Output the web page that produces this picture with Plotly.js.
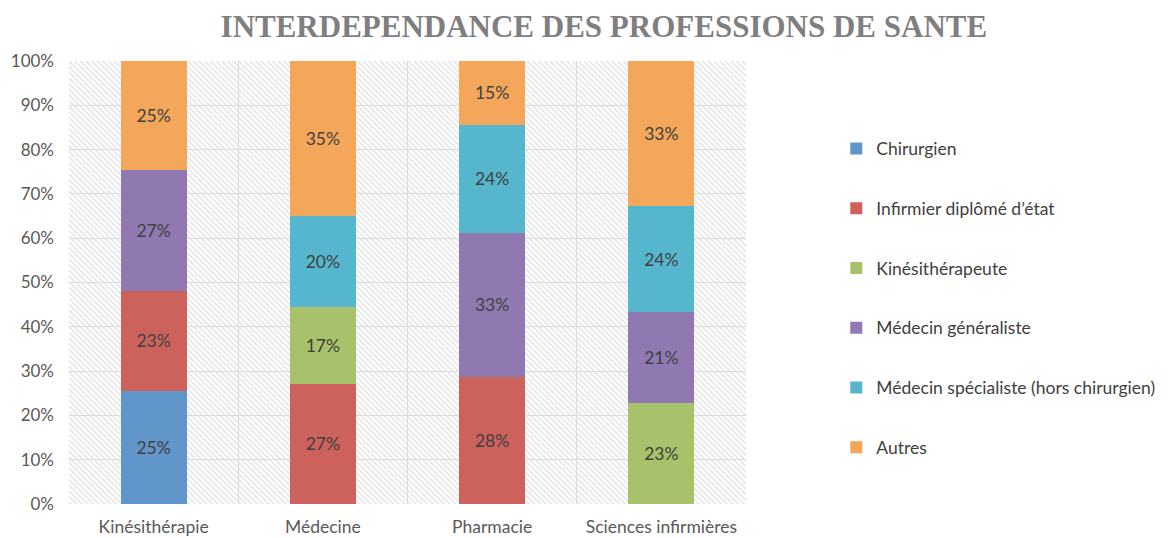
<!DOCTYPE html>
<html><head><meta charset="utf-8">
<script src="https://cdn.plot.ly/plotly-3.0.1.min.js"></script>
<style>html,body{margin:0;padding:0;background:#fff;}#chart{width:1168px;height:538px;}</style>
</head><body><div id="chart"></div>
<script>
const categories = ["Kinésithérapie", "Médecine", "Pharmacie", "Sciences infirmières"];
const seriesNames = ["Chirurgien", "Infirmier diplômé d’état", "Kinésithérapeute", "Médecin généraliste", "Médecin spécialiste (hors chirurgien)", "Autres"];
const chirurgien   = [25.5, 0, 0, 0];
const infirmier    = [22.6, 27.1, 28.7, 0];
const kine         = [0, 17.4, 0, 22.8];
const generaliste  = [27.3, 0, 32.5, 20.5];
const specialiste  = [0, 20.5, 24.4, 24.0];
const autres       = [24.6, 35.0, 14.4, 32.7];
const chirurgienLabels  = ["25%", "", "", ""];
const infirmierLabels   = ["23%", "27%", "28%", ""];
const kineLabels        = ["", "17%", "", "23%"];
const generalisteLabels = ["27%", "", "33%", "21%"];
const specialisteLabels = ["", "20%", "24%", "24%"];
const autresLabels      = ["25%", "35%", "15%", "33%"];
const yTickVals = [0,10,20,30,40,50,60,70,80,90,100];
const yTickText = ["0%","10%","20%","30%","40%","50%","60%","70%","80%","90%","100%"];

const colors = ["#6096c9", "#cd625d", "#a7c26b", "#9079b1", "#56b6cd", "#f4a65b"];
const values = [chirurgien, infirmier, kine, generaliste, specialiste, autres];
const labels = [chirurgienLabels, infirmierLabels, kineLabels, generalisteLabels, specialisteLabels, autresLabels];

const font = "Lato, 'Open Sans', sans-serif";

const traces = [];
// background hatch
traces.push({
  type: "scatter", mode: "none", x: [0, 1, 1, 0, 0], y: [0, 0, 1, 1, 0],
  xaxis: "x", yaxis: "y", fill: "toself", fillcolor: "rgba(0,0,0,0)",
  fillpattern: {shape: "\\", fgcolor: "#e0e0e0", bgcolor: "rgba(0,0,0,0)", size: 4, solidity: 0.35},
  hoverinfo: "skip", showlegend: false
});
seriesNames.forEach((name, i) => {
  traces.push({
    type: "bar", name: name, x: categories, y: values[i],
    xaxis: "x2", yaxis: "y2",
    marker: {color: colors[i], line: {width: 0}},
    text: labels[i], textposition: "inside", insidetextanchor: "middle",
    textangle: 0, constraintext: "none",
    textfont: {family: font, size: 17.5, color: "#404040"},
    legendgroup: "g" + i, width: 0.39
  });
});

const layout = {
  width: 1168, height: 538,
  margin: {l: 69, r: 422, t: 61, b: 34, autoexpand: false},
  paper_bgcolor: "#ffffff", plot_bgcolor: "#ffffff",
  barmode: "stack",
  title: {text: "<b>INTERDEPENDANCE DES PROFESSIONS DE SANTE</b>",
    font: {family: "'Liberation Serif', serif", size: 31, color: "#7f7f7f"},
    x: 0.517, xanchor: "center", y: 0.952, yanchor: "middle"},
  xaxis: {range: [0, 1], visible: false, fixedrange: true},
  yaxis: {range: [0, 1], visible: false, fixedrange: true},
  xaxis2: {overlaying: "x", type: "category", tickson: "boundaries", showgrid: true,
    gridcolor: "#d9d9d9", gridwidth: 1, ticks: "", showline: false, zeroline: false,
    tickfont: {family: font, size: 17.5, color: "#595959"}, ticklabelstandoff: 10},
  yaxis2: {overlaying: "y", range: [0, 100], tickvals: yTickVals, ticktext: yTickText,
    showgrid: true, gridcolor: "#d9d9d9", gridwidth: 1, zeroline: false, ticks: "",
    showline: false, tickfont: {family: font, size: 17, color: "#595959"}, ticklabelstandoff: 14},
  legend: {xref: "container", x: 0.716, xanchor: "left", y: 0.465, yanchor: "middle",
    traceorder: "grouped", tracegroupgap: 34,
    font: {family: font, size: 17.5, color: "#404040"}, itemwidth: 30},
  showlegend: true
};
Plotly.newPlot("chart", traces, layout, {displayModeBar: false, staticPlot: true});
</script></body></html>
